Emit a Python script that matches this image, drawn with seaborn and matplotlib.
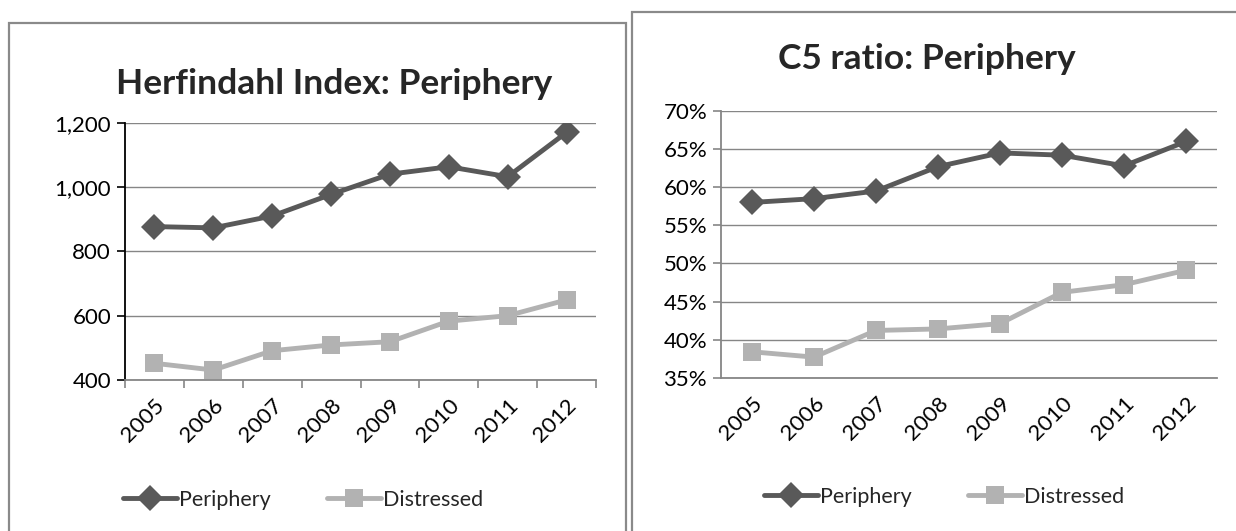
import pandas as pd
import matplotlib.pyplot as plt
import seaborn as sns
from matplotlib.lines import Line2D
from matplotlib.patches import Rectangle
from matplotlib.ticker import FuncFormatter, FixedLocator

# data
years = ['2005', '2006', '2007', '2008', '2009', '2010', '2011', '2012']
hhi_periphery = [877, 873, 910, 977, 1040, 1063, 1032, 1170]
hhi_distressed = [452, 431, 491, 509, 519, 583, 600, 649]
c5_periphery = [58.0, 58.5, 59.5, 62.7, 64.5, 64.2, 62.8, 66.0]
c5_distressed = [38.4, 37.7, 41.2, 41.4, 42.1, 46.2, 47.2, 49.1]

series_names = ['Periphery', 'Distressed']
colors = {'Periphery': '#595959', 'Distressed': '#b2b2b2'}
markers = {'Periphery': 'D', 'Distressed': 's'}

sns.set_theme(style='white')
plt.rcParams['font.family'] = ['Lato', 'DejaVu Sans']

W, H = 1236, 531
fig = plt.figure(figsize=(W / 100, H / 100), dpi=100)


def frac(x0, y0, x1, y1):
    # pixel box (top-left origin) -> figure fraction [left, bottom, width, height]
    return [x0 / W, 1 - y1 / H, (x1 - x0) / W, (y1 - y0) / H]


def long_df(periphery, distressed):
    rows = []
    for name, vals in zip(series_names, [periphery, distressed]):
        for y, v in zip(years, vals):
            rows.append({'Year': y, 'Value': v, 'Series': name})
    return pd.DataFrame(rows)


def draw_panel(ax, df, ylim, yticks, fmt, axis_color, xticks_marks):
    sns.lineplot(data=df, x='Year', y='Value', hue='Series', style='Series',
                 palette=colors, markers=markers, dashes=False, sort=False,
                 linewidth=3.5, ax=ax, legend=False)
    for line in ax.lines:
        c = line.get_color()
        line.set_markeredgecolor(c)
        line.set_markeredgewidth(0)
        line.set_markersize(13 if line.get_marker() == 'D' else 13.5)
    ax.set_xlim(-0.5, len(years) - 0.5)
    ax.set_ylim(*ylim)
    ax.yaxis.set_major_locator(FixedLocator(yticks))
    ax.yaxis.set_major_formatter(FuncFormatter(fmt))
    ax.grid(axis='y', color='#868686', linewidth=1.0)
    ax.set_axisbelow(True)
    for s in ['top', 'right']:
        ax.spines[s].set_visible(False)
    ax.spines['left'].set_color(axis_color)
    ax.spines['left'].set_linewidth(1.3)
    ax.spines['bottom'].set_color('#868686')
    ax.spines['bottom'].set_linewidth(1.3)
    ax.set_xlabel('')
    ax.set_ylabel('')
    ax.tick_params(axis='y', left=True, length=6, width=1.2, color=axis_color,
                   labelsize=16, pad=4, labelcolor='black')
    ax.set_xticks(range(len(years)))
    ax.set_xticklabels(years)
    ax.tick_params(axis='x', bottom=False, labelsize=16, pad=5, labelcolor='black')
    for lab in ax.get_xticklabels():
        lab.set_rotation(45)
        lab.set_ha('right')
        lab.set_va('top')
        lab.set_rotation_mode('anchor')
    if xticks_marks:
        ax.set_xticks([i - 0.5 for i in range(len(years) + 1)], minor=True)
        ax.tick_params(axis='x', which='minor', bottom=True, length=6,
                       width=1.2, color='#868686')


# panel borders
fig.add_artist(Rectangle((9 / W, 1 - 545 / H), 617 / W, 522 / H,
                         transform=fig.transFigure, fill=False,
                         edgecolor='#8a8a8a', linewidth=1.6))
fig.add_artist(Rectangle((632 / W, 1 - 545 / H), 620 / W, 533 / H,
                         transform=fig.transFigure, fill=False,
                         edgecolor='#8a8a8a', linewidth=1.6))

ax1 = fig.add_axes(frac(125, 122.7, 596, 380))
draw_panel(ax1, long_df(hhi_periphery, hhi_distressed), (400, 1200),
           [400, 600, 800, 1000, 1200], lambda v, p: f'{int(v):,}',
           'black', True)

ax2 = fig.add_axes(frac(721, 111, 1217, 377.7))
draw_panel(ax2, long_df(c5_periphery, c5_distressed), (35, 70),
           [35, 40, 45, 50, 55, 60, 65, 70], lambda v, p: f'{int(v)}%',
           '#868686', False)

fig.text(334 / W, 1 - 84 / H, 'Herfindahl Index: Periphery', ha='center',
         va='center', fontsize=25.5, fontweight='bold')
fig.text(927 / W, 1 - 59 / H, 'C5 ratio: Periphery', ha='center',
         va='center', fontsize=25.5, fontweight='bold')

handles = [Line2D([], [], color=colors[n], marker=markers[n], linewidth=3.5,
                  markersize=13, markeredgewidth=0) for n in series_names]
fig.legend(handles, series_names, loc='center', bbox_to_anchor=(303 / W, 1 - 500 / H),
           ncol=2, frameon=False, fontsize=15.5, handlelength=2.5,
           handletextpad=0.1, columnspacing=2.6)
fig.legend(handles, series_names, loc='center', bbox_to_anchor=(944 / W, 1 - 497 / H),
           ncol=2, frameon=False, fontsize=15.5, handlelength=2.5,
           handletextpad=0.1, columnspacing=2.6)

fig.savefig('out.png', dpi=100)
